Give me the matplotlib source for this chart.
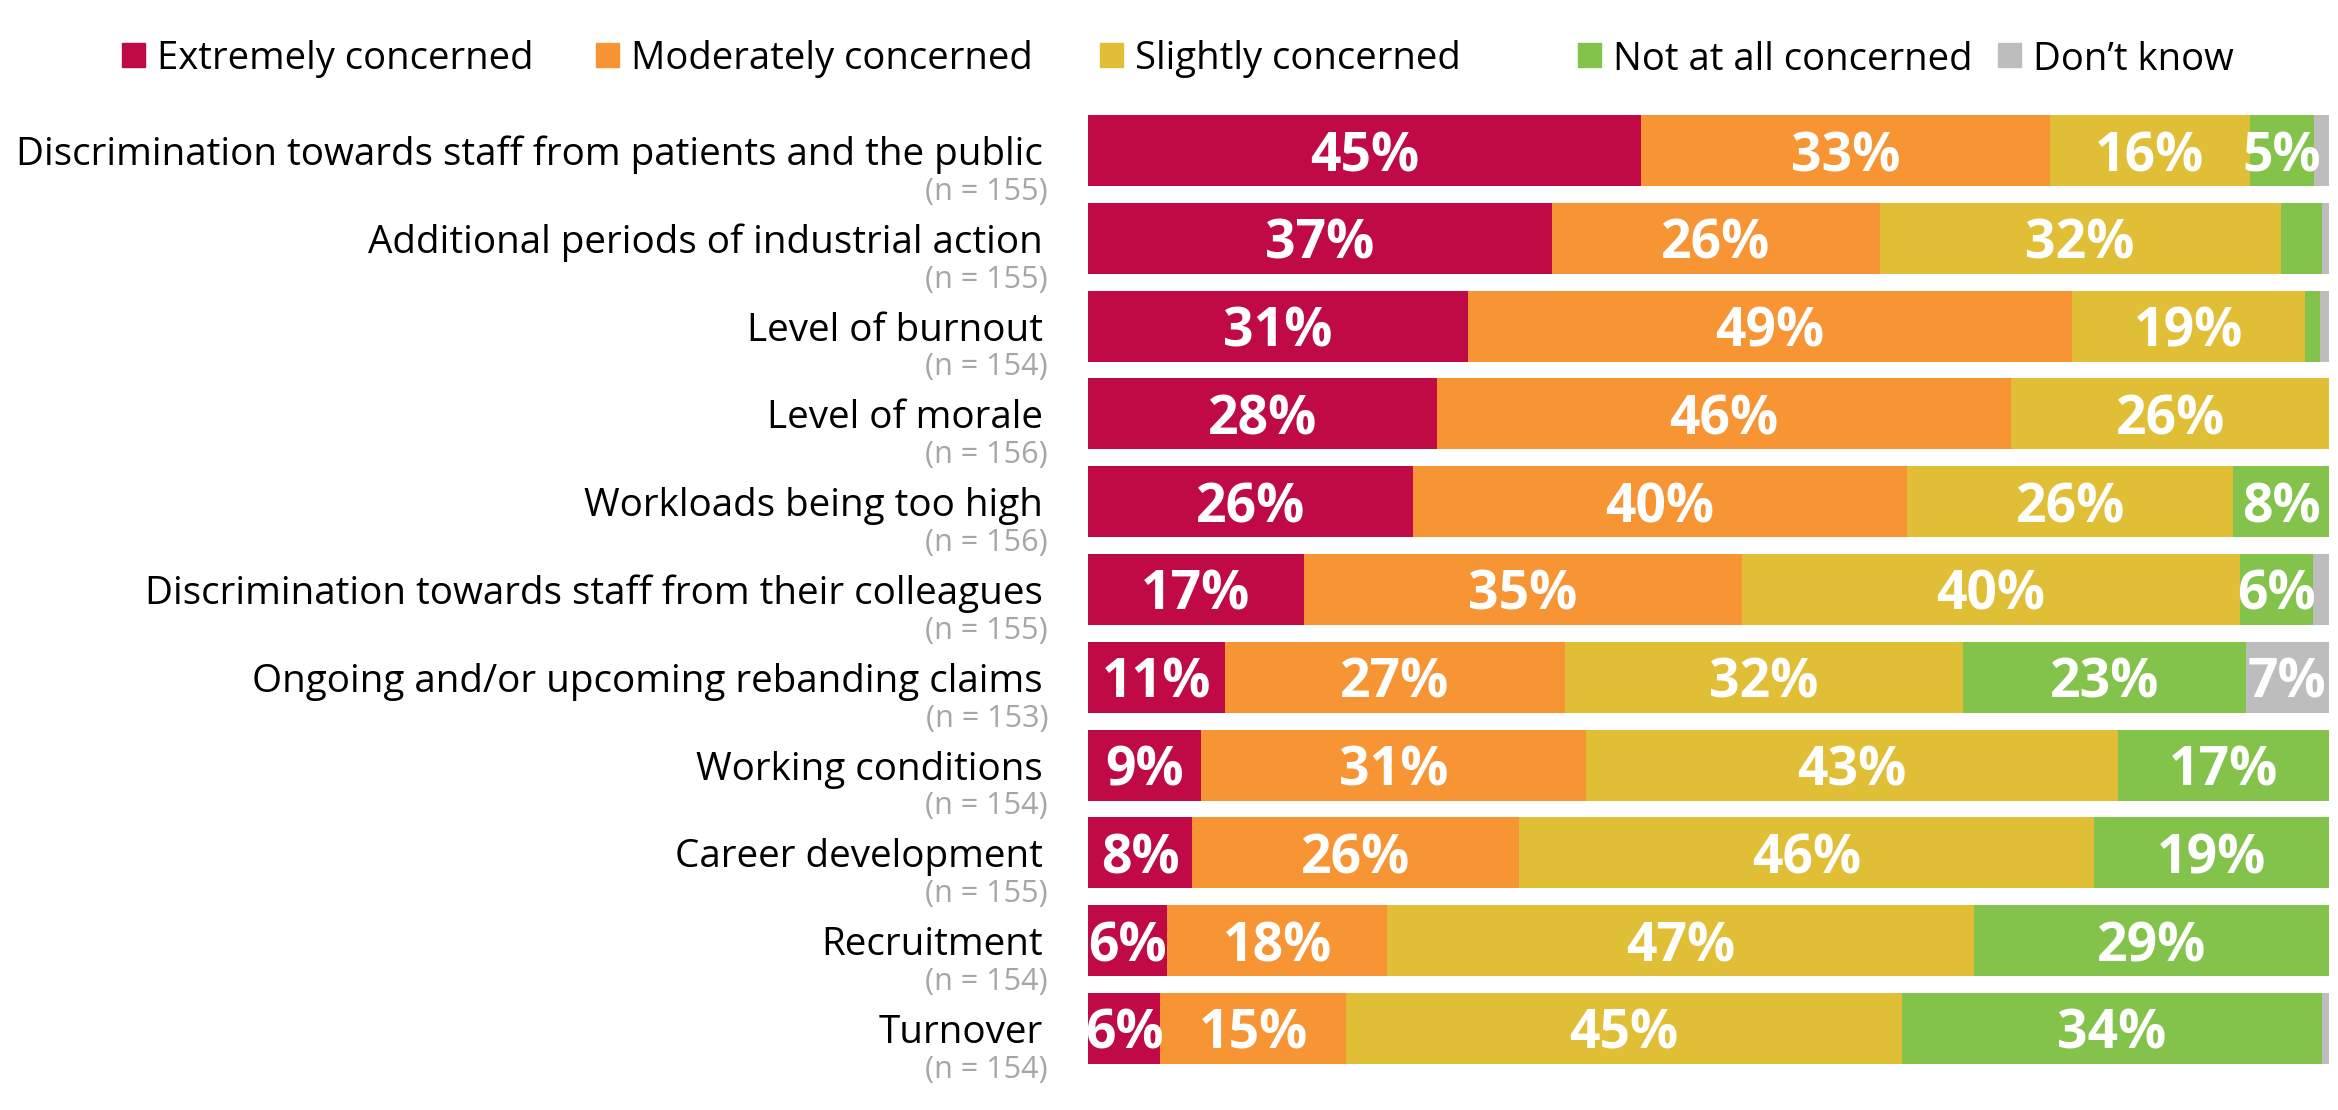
import matplotlib
matplotlib.use("Agg")
import matplotlib.pyplot as plt
from matplotlib.patches import Rectangle
from matplotlib.transforms import blended_transform_factory, offset_copy

plt.rcParams['font.family'] = ['Open Sans', 'DejaVu Sans']

categories = [
    "Discrimination towards staff from patients and the public",
    "Additional periods of industrial action",
    "Level of burnout",
    "Level of morale",
    "Workloads being too high",
    "Discrimination towards staff from their colleagues",
    "Ongoing and/or upcoming rebanding claims",
    "Working conditions",
    "Career development",
    "Recruitment",
    "Turnover",
]
n_sizes = [155, 155, 154, 156, 156, 155, 153, 154, 155, 154, 154]

series_names = ["Extremely concerned", "Moderately concerned", "Slightly concerned",
                "Not at all concerned", "Don\u2019t know"]
extremely = [44.6, 37.4, 30.6, 28.1, 26.2, 17.4, 11.0, 9.1, 8.4, 6.4, 5.8]
moderately = [32.9, 26.4, 48.7, 46.3, 39.8, 35.3, 27.4, 31.0, 26.3, 17.7, 15.0]
slightly = [16.1, 32.3, 18.8, 25.6, 26.3, 40.1, 32.1, 42.9, 46.4, 47.3, 44.8]
not_at_all = [5.2, 3.3, 1.2, 0.0, 7.7, 5.9, 22.8, 17.0, 18.9, 28.6, 33.8]
dont_know = [1.2, 0.6, 0.7, 0.0, 0.0, 1.3, 6.7, 0.0, 0.0, 0.0, 0.6]

colors = ["#C00A46", "#F79433", "#E0BF37", "#84C34B", "#BDBDBD"]
series = [extremely, moderately, slightly, not_at_all, dont_know]

W, H = 2338, 1110
fig = plt.figure(figsize=(W / 100, H / 100), dpi=100)
bar_left, bar_right = 1088, 2329
bar_top, bar_bottom = 115, 1064
ax = fig.add_axes([bar_left / W, 1 - bar_bottom / H, (bar_right - bar_left) / W, (bar_bottom - bar_top) / H])

bh = 0.81
y = list(range(len(categories)))
left = [0.0] * len(categories)
for vals, col in zip(series, colors):
    ax.barh(y, vals, left=left, height=bh, color=col, edgecolor='none')
    for i, v in enumerate(vals):
        if v >= 4.5:
            ax.text(left[i] + v / 2, i, f"{round(v)}%", ha='center', va='center_baseline',
                    color='white', fontsize=38.5, fontweight='bold')
    left = [l + v for l, v in zip(left, vals)]

ax.set_xlim(0, 100)
ax.set_ylim(len(categories) - 1 + bh / 2, -bh / 2)
ax.axis('off')

trans = blended_transform_factory(ax.transAxes, ax.transData)
t_cat = offset_copy(trans, fig=fig, x=-45, y=0, units='dots')
t_n = offset_copy(trans, fig=fig, x=-40, y=0, units='dots')
for i, (c, n) in enumerate(zip(categories, n_sizes)):
    ax.text(0, i, c, transform=t_cat, ha='right', va='center_baseline', fontsize=27.8, color='black')
    ax.text(0, i + 0.47, f"(n = {n})", transform=t_n, ha='right', va='center',
            fontsize=22, color='#A6A6A6')

# legend
leg_x = [122, 596, 1100, 1578, 1998]
leg_y = 55
sq = 23
for name, col, lx in zip(series_names, colors, leg_x):
    fig.patches.append(Rectangle((lx / W, (H - leg_y - sq / 2) / H), sq / W, sq / H,
                                 transform=fig.transFigure, color=col))
    fig.text((lx + sq + 12) / W, 1 - leg_y / H, name, ha='left', va='center_baseline',
             fontsize=27.5, color='black')

fig.savefig("out.png", dpi=100)
